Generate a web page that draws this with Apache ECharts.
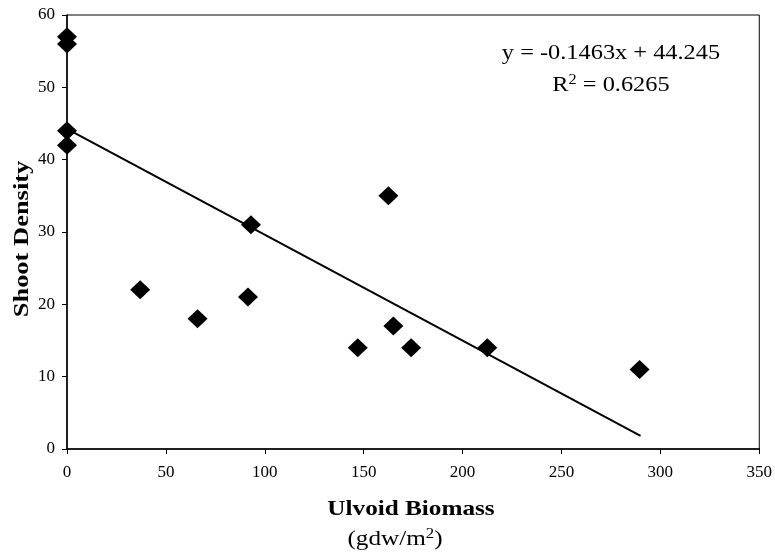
<!DOCTYPE html>
<html>
<head>
<meta charset="utf-8">
<script src="https://cdn.jsdelivr.net/npm/echarts@6/dist/echarts.min.js"></script>
<style>html,body{margin:0;padding:0;background:#fff}#c{width:775px;height:554px}</style>
</head>
<body>
<div id="c"></div>
<script>
var biomass = [0, 0, 0, 0, 37, 66, 91.5, 93, 147, 162.5, 165, 174, 212.5, 289.5];
var density = [57, 56, 44, 42, 22, 18, 21, 31, 14, 35, 17, 14, 14, 11];
var trendX = [0, 290];
var trendY = [44.245, 1.82];
var xTicks = [0, 50, 100, 150, 200, 250, 300, 350];
var yTicks = [0, 10, 20, 30, 40, 50, 60];
var eqText = 'y = -0.1463x + 44.245';
var r2Text = '0.6265';

var pts = biomass.map(function (x, i) { return [x, density[i]]; });
var trend = trendX.map(function (x, i) { return [x, trendY[i]]; });
var font = 'Liberation Serif';

var chart = echarts.init(document.getElementById('c'));
chart.setOption({
  animation: false,
  backgroundColor: '#fff',
  grid: { left: 67, right: 13, top: 15, bottom: 105, show: true, borderColor: '#000', borderWidth: 1, backgroundColor: 'transparent' },
  xAxis: {
    type: 'value', min: xTicks[0], max: xTicks[xTicks.length - 1], interval: 50,
    axisLine: { show: true, onZero: false, lineStyle: { color: '#000', width: 1.5 } },
    axisTick: { show: true, inside: false, length: 5, lineStyle: { color: '#000' } },
    axisLabel: { color: '#000', fontFamily: font, fontSize: 17, margin: 15 },
    splitLine: { show: false }
  },
  yAxis: {
    type: 'value', min: yTicks[0], max: yTicks[yTicks.length - 1], interval: 10,
    axisLine: { show: true, onZero: false, lineStyle: { color: '#000', width: 1.5 } },
    axisTick: { show: true, inside: false, length: 5, lineStyle: { color: '#000' } },
    axisLabel: { color: '#000', fontFamily: font, fontSize: 17, margin: 12 },
    splitLine: { show: false }
  },
  series: [
    {
      type: 'line', data: trend, symbol: 'none', z: 2,
      lineStyle: { color: '#000', width: 2 }
    },
    {
      type: 'scatter', data: pts, symbol: 'diamond', symbolSize: [20, 19], z: 3,
      itemStyle: { color: '#000', opacity: 1 }
    }
  ],
  graphic: [
    { type: 'text', x: 23, y: 239, rotation: Math.PI / 2, scaleX: 1.26, style: { text: 'Shoot Density', font: 'bold 21px "Liberation Serif"', fill: '#000', align: 'center', verticalAlign: 'middle' } },
    { type: 'text', x: 411, y: 510, scaleX: 1.2, style: { text: 'Ulvoid Biomass', font: 'bold 21px "Liberation Serif"', fill: '#000', align: 'center', verticalAlign: 'middle' } },
    { type: 'text', x: 395, y: 539, scaleX: 1.2, style: { text: '(gdw/m{s|2})', rich: { s: { fontSize: 14, padding: [0,0,10,0], fontFamily: font, fill: '#000' } }, font: '21px "Liberation Serif"', fill: '#000', align: 'center', verticalAlign: 'middle' } },
    { type: 'text', x: 611, y: 53, scaleX: 1.16, style: { text: eqText, font: '21px "Liberation Serif"', fill: '#000', align: 'center', verticalAlign: 'middle' } },
    { type: 'text', x: 611, y: 85, scaleX: 1.16, style: { text: 'R{s|2} = ' + r2Text, rich: { s: { fontSize: 14, padding: [0,0,10,0], fontFamily: font, fill: '#000' } }, font: '21px "Liberation Serif"', fill: '#000', align: 'center', verticalAlign: 'middle' } }
  ]
});
</script>
</body>
</html>
